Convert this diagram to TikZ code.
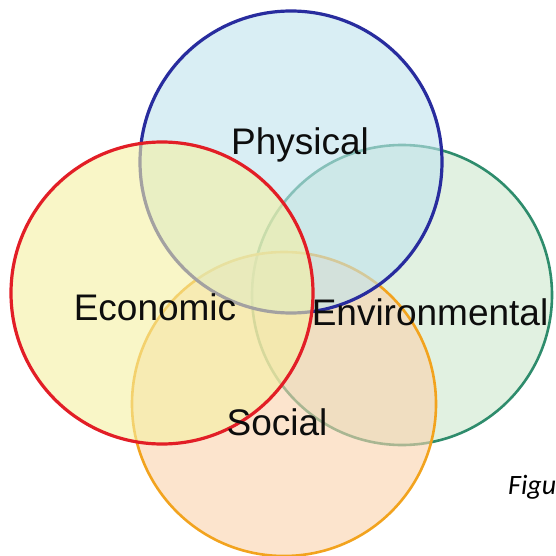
\documentclass[tikz,border=0pt]{standalone}
\usepackage{fontspec}
\setmainfont{Liberation Sans}
\newfontfamily\capfont{Carlito}

\definecolor{physline}{RGB}{40,44,158}
\definecolor{physfill}{RGB}{193,227,237}
\definecolor{econline}{RGB}{226,30,38}
\definecolor{econfill}{RGB}{245,240,163}
\definecolor{envline}{RGB}{46,140,108}
\definecolor{envfill}{RGB}{205,232,205}
\definecolor{socline}{RGB}{242,163,30}
\definecolor{socfill}{RGB}{251,210,172}

\begin{document}
\begin{tikzpicture}[x=1pt,y=-1pt,
  ring/.style={line width=3.2pt,fill opacity=0.6},
  lbl/.style={anchor=base,text=black!95,font=\fontsize{37}{40}\selectfont}]
\useasboundingbox (0,0) rectangle (555,556);
\fill[white] (0,0) rectangle (555,556);
\draw[ring,draw=envline,fill=envfill,line width=2.6pt] (402,295) circle[radius=150];
\draw[ring,draw=socline,fill=socfill,line width=2.6pt] (284,404) circle[radius=152];
\draw[ring,draw=physline,fill=physfill] (291,162) circle[radius=151];
\draw[ring,draw=econline,fill=econfill] (162,293) circle[radius=151];
\node[lbl] (phys) at (300,155) {Physical};
\node[lbl] (econ) at (155,320) {Economic};
\node[lbl] (env) at (430,325) {Environmental};
\node[lbl] (soc) at (277,435) {Social};
\node[anchor=base west,inner sep=0pt,font=\capfont\itshape\fontsize{28}{30}\selectfont] (cap) at (508,494) {Figu};
\end{tikzpicture}
\end{document}
